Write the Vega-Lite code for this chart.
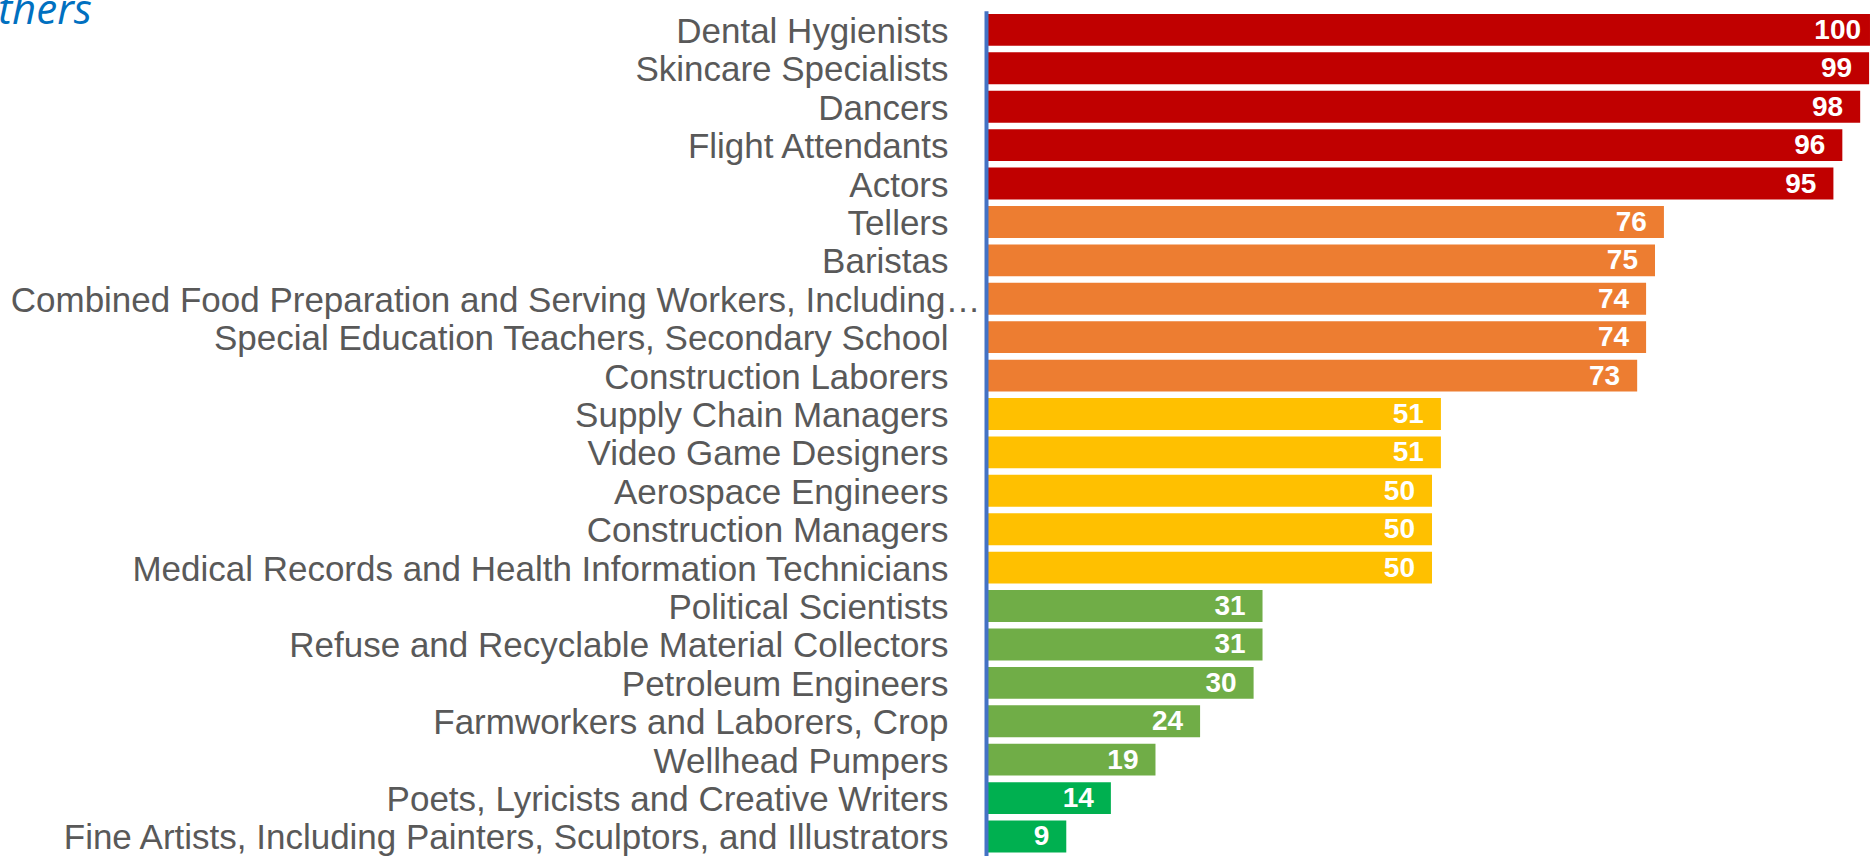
{
  "$schema": "https://vega.github.io/schema/vega-lite/v6.json",
  "width": 884,
  "height": 845,
  "autosize": {"type": "none"},
  "padding": {"left": 986, "top": 10.7, "right": 0, "bottom": 0},
  "background": "white",
  "title": {
    "text": "Others",
    "anchor": "start",
    "frame": "group",
    "orient": "top",
    "offset": 0,
    "baseline": "alphabetic",
    "dx": -1018,
    "dy": 55,
    "font": "Open Sans",
    "fontStyle": "italic",
    "fontWeight": "normal",
    "fontSize": 42,
    "color": "#0070C0"
  },
  "config": {
    "view": {"stroke": null},
    "axis": {"grid": false}
  },
  "data": {
    "values": [
      {"job": "Dental Hygienists", "score": 100, "tier": "Very High"},
      {"job": "Skincare Specialists", "score": 99, "tier": "Very High"},
      {"job": "Dancers", "score": 98, "tier": "Very High"},
      {"job": "Flight Attendants", "score": 96, "tier": "Very High"},
      {"job": "Actors", "score": 95, "tier": "Very High"},
      {"job": "Tellers", "score": 76, "tier": "High"},
      {"job": "Baristas", "score": 75, "tier": "High"},
      {"job": "Combined Food Preparation and Serving Workers, Including…", "score": 74, "tier": "High"},
      {"job": "Special Education Teachers, Secondary School", "score": 74, "tier": "High"},
      {"job": "Construction Laborers", "score": 73, "tier": "High"},
      {"job": "Supply Chain Managers", "score": 51, "tier": "Medium"},
      {"job": "Video Game Designers", "score": 51, "tier": "Medium"},
      {"job": "Aerospace Engineers", "score": 50, "tier": "Medium"},
      {"job": "Construction Managers", "score": 50, "tier": "Medium"},
      {"job": "Medical Records and Health Information Technicians", "score": 50, "tier": "Medium"},
      {"job": "Political Scientists", "score": 31, "tier": "Low"},
      {"job": "Refuse and Recyclable Material Collectors", "score": 31, "tier": "Low"},
      {"job": "Petroleum Engineers", "score": 30, "tier": "Low"},
      {"job": "Farmworkers and Laborers, Crop", "score": 24, "tier": "Low"},
      {"job": "Wellhead Pumpers", "score": 19, "tier": "Low"},
      {"job": "Poets, Lyricists and Creative Writers", "score": 14, "tier": "Very Low"},
      {"job": "Fine Artists, Including Painters, Sculptors, and Illustrators", "score": 9, "tier": "Very Low"}
    ]
  },
  "encoding": {
    "y": {
      "field": "job",
      "type": "nominal",
      "sort": null,
      "scale": {"paddingInner": 0.17, "paddingOuter": 0.085},
      "axis": {
        "title": null,
        "ticks": false,
        "domainColor": "#4472C4",
        "domainWidth": 4,
        "zindex": 1,
        "labelFont": "Liberation Sans",
        "labelFontSize": 35,
        "labelOffset": 2,
        "labelColor": "#595959",
        "labelLimit": 0,
        "labelPadding": {"condition": {"test": "indexof(datum.value, 'Combined') == 0", "value": 6}, "value": 38}
      }
    },
    "x": {
      "field": "score",
      "type": "quantitative",
      "scale": {"domain": [0, 99.1], "nice": false, "zero": true},
      "axis": null
    }
  },
  "layer": [
    {
      "mark": {"type": "bar", "clip": true},
      "encoding": {
        "color": {
          "field": "tier",
          "type": "nominal",
          "scale": {
            "domain": ["Very High", "High", "Medium", "Low", "Very Low"],
            "range": ["#C00000", "#ED7D31", "#FFC000", "#70AD47", "#00B050"]
          },
          "legend": null
        }
      }
    },
    {
      "mark": {
        "type": "text",
        "align": "right",
        "baseline": "middle",
        "dx": -17,
        "dy": 1,
        "font": "Liberation Sans",
        "fontWeight": "bold",
        "fontSize": 28,
        "color": "white",
        "clip": true
      },
      "encoding": {
        "text": {"field": "score", "type": "quantitative"}
      }
    }
  ]
}
